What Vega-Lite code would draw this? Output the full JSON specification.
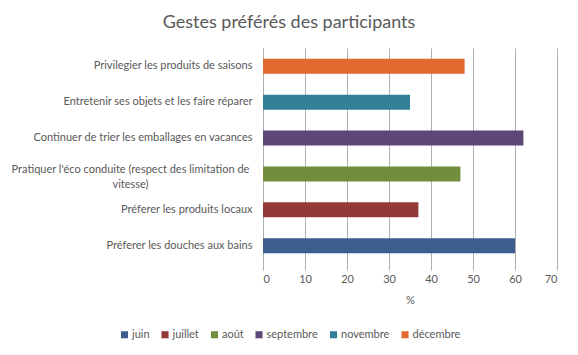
{
  "$schema": "https://vega.github.io/schema/vega-lite/v6.json",
  "autosize": {"type": "none"},
  "padding": {"left": 263, "top": 48, "right": 21, "bottom": 91},
  "width": 294,
  "height": 216,
  "background": "white",
  "title": {
    "text": "Gestes préférés des participants",
    "font": "Lato",
    "fontSize": 18,
    "fontWeight": "normal",
    "color": "#595959",
    "anchor": "middle",
    "frame": "group",
    "dx": -121,
    "offset": 16
  },
  "config": {
    "view": {"stroke": null},
    "font": "Lato"
  },
  "data": {
    "values": [
      {"geste": "Privilegier les produits de saisons", "mois": "décembre", "pct": 48},
      {"geste": "Entretenir ses objets et les faire réparer", "mois": "novembre", "pct": 35},
      {"geste": "Continuer de trier les emballages en vacances", "mois": "septembre", "pct": 62},
      {"geste": "Pratiquer l'éco conduite (respect des limitation de vitesse)", "mois": "août", "pct": 47},
      {"geste": "Préferer les produits locaux", "mois": "juillet", "pct": 37},
      {"geste": "Préferer les douches aux bains", "mois": "juin", "pct": 60}
    ]
  },
  "mark": {"type": "bar"},
  "encoding": {
    "y": {
      "field": "geste",
      "type": "nominal",
      "sort": null,
      "scale": {"paddingInner": 0.58, "paddingOuter": 0.3},
      "axis": {
        "title": null,
        "domainColor": "#B0B0B0",
        "ticks": false,
        "labelFont": "Lato",
        "labelFontSize": 11,
        "labelColor": "#595959",
        "labelLimit": 400,
        "labelExpr": "indexof(datum.value, 'Pratiquer') === 0 ? ['Pratiquer l\\'éco conduite (respect des limitation de', 'vitesse)'] : datum.value",
        "labelLineHeight": 15,
        "labelAlign": {"condition": {"test": "indexof(datum.value, 'Pratiquer') === 0", "value": "center"}, "value": "right"},
        "labelPadding": {"condition": {"test": "indexof(datum.value, 'Pratiquer') === 0", "value": 133}, "value": 11},
        "labelOffset": {"condition": {"test": "indexof(datum.value, 'Pratiquer') === 0", "value": -4}, "value": 0}
      }
    },
    "x": {
      "field": "pct",
      "type": "quantitative",
      "scale": {"domain": [0, 70], "nice": false},
      "axis": {
        "title": "%",
        "values": [0, 10, 20, 30, 40, 50, 60, 70],
        "domain": false,
        "ticks": true,
        "tickSize": 6,
        "tickColor": "#B0B0B0",
        "gridColor": "#B0B0B0",
        "labelPadding": 3,
        "labelFont": "Lato",
        "labelFontSize": 11,
        "labelColor": "#595959",
        "titleFont": "Lato",
        "titleFontSize": 11,
        "titleFontWeight": "normal",
        "titleColor": "#595959",
        "titlePadding": 10
      }
    },
    "color": {
      "field": "mois",
      "type": "nominal",
      "scale": {
        "domain": ["juin", "juillet", "août", "septembre", "novembre", "décembre"],
        "range": ["#3B5E8D", "#923A38", "#728D3E", "#5D4777", "#337F98", "#E2692F"]
      },
      "legend": {
        "title": null,
        "orient": "none",
        "direction": "horizontal",
        "legendX": -144,
        "legendY": 281,
        "symbolType": "square",
        "symbolSize": 50,
        "symbolStrokeWidth": 0,
        "labelFont": "Lato",
        "labelFontSize": 11,
        "labelColor": "#595959",
        "labelOffset": 2,
        "columnPadding": 9.5
      }
    }
  }
}
